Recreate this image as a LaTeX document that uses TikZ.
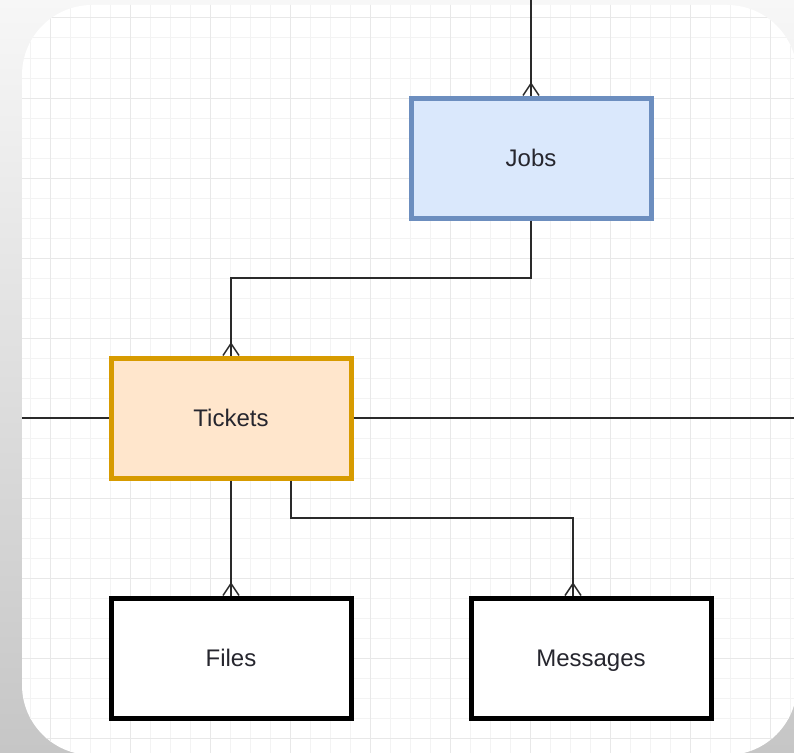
\documentclass[tikz,border=0pt]{standalone}
\usepackage{fontspec}
\setmainfont{Liberation Sans}
\usetikzlibrary{calc}
\definecolor{jobsfill}{HTML}{DAE8FC}
\definecolor{jobsdraw}{HTML}{6C8EBF}
\definecolor{tickfill}{HTML}{FFE6CC}
\definecolor{tickdraw}{HTML}{D79B00}
\definecolor{gridminor}{HTML}{F3F3F3}
\definecolor{gridmajor}{HTML}{E8E8E8}
\definecolor{linec}{HTML}{2A2A2A}
\definecolor{txt}{HTML}{26262E}
\definecolor{bgtop}{HTML}{F7F7F7}
\definecolor{bgbot}{HTML}{C6C6C6}
\newcommand\crowfoot[1]{\draw[conn] ($(#1)+(-8,0)$) -- ($(#1)+(0,-12)$) -- ($(#1)+(8,0)$);}
\begin{document}
\begin{tikzpicture}[x=1pt,y=-1pt,
  entity/.style={draw, line width=5pt, minimum width=240pt, minimum height=120pt,
    inner sep=0pt, font=\fontsize{24}{24}\selectfont, text=txt,
    text height=17pt, text depth=0pt},
  conn/.style={draw=linec, line width=1.5pt},
]
\useasboundingbox (0,0) rectangle (794,752);
\shade[top color=bgtop, bottom color=bgbot] (0,0) rectangle (794,752);
\begin{scope}
  \path[clip, rounded corners=70pt] (22,5) rectangle (797,755);
  \fill[white] (0,0) rectangle (800,760);
  \foreach \x in {10,30,...,790} \draw[gridminor, line width=1pt] (\x,0) -- (\x,760);
  \foreach \y in {-2,18,...,758} \draw[gridminor, line width=1pt] (0,\y) -- (800,\y);
  \foreach \x in {50,130,...,790} \draw[gridmajor, line width=1pt] (\x,0) -- (\x,760);
  \foreach \y in {18,98,...,758} \draw[gridmajor, line width=1pt] (0,\y) -- (800,\y);
\end{scope}

\node[entity, draw=jobsdraw, fill=jobsfill] (jobs) at (531,158) {Jobs};
\node[entity, draw=tickdraw, fill=tickfill] (tickets) at (231,418) {Tickets};
\node[entity, draw=black, fill=white] (files) at (231,658) {Files};
\node[entity, draw=black, fill=white] (messages) at (591,658) {Messages};

\coordinate (tend) at (531,0);
\coordinate (lend) at (22,418);
\coordinate (rend) at (794,418);
\coordinate (bend1) at (231,278);
\coordinate (tsout) at ($(tickets.south)+(60,0)$);
\coordinate (bend2) at (291,518);
\coordinate (min) at ($(messages.north)+(-18,0)$);

\draw[conn] (tend) -- (jobs.north);
\crowfoot{jobs.north}
\draw[conn] (jobs.south) |- (bend1) -- (tickets.north);
\crowfoot{tickets.north}
\draw[conn] (lend) -- (tickets.west);
\draw[conn] (tickets.east) -- (rend);
\draw[conn] (tickets.south) -- (files.north);
\crowfoot{files.north}
\draw[conn] (tsout) -- (bend2) -| (min);
\crowfoot{min}
\end{tikzpicture}
\end{document}
